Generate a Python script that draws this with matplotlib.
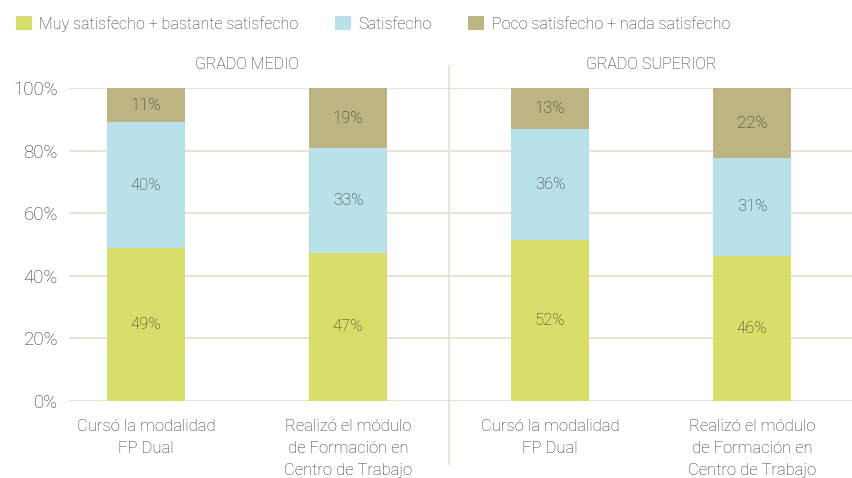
import matplotlib
matplotlib.use("Agg")
import matplotlib.pyplot as plt
from matplotlib.patches import Patch
import numpy as np

plt.rcParams['font.family'] = ['Roboto', 'DejaVu Sans']
plt.rcParams['font.weight'] = 'light'

categories = ["Cursó la modalidad\nFP Dual",
              "Realizó el módulo\nde Formación en\nCentro de Trabajo",
              "Cursó la modalidad\nFP Dual",
              "Realizó el módulo\nde Formación en\nCentro de Trabajo"]
groups = ["GRADO MEDIO", "GRADO SUPERIOR"]
series_names = ["Muy satisfecho + bastante satisfecho", "Satisfecho",
                "Poco satisfecho + nada satisfecho"]
muy = [49.0, 47.4, 51.5, 46.4]
satis = [40.0, 33.3, 35.5, 31.2]
poco = [11.0, 19.3, 13.0, 22.4]
colors = ["#d7df6a", "#b8e1ea", "#bcb483"]
text_color = "#333333"
grid_color = "#e7e3cf"

fig = plt.figure(figsize=(8.52, 4.78), dpi=100)
ax = fig.add_axes([69/852, 1-401/478, 1-69/852, 313/478])

x = np.arange(len(categories))
w = 0.386
bottom = np.zeros(len(categories))
for vals, col in zip([muy, satis, poco], colors):
    vals = np.array(vals)
    ax.bar(x, vals, w, bottom=bottom, color=col, zorder=3)
    for xi, b, v in zip(x, bottom, vals):
        ax.text(xi, b + v/2, f"{v:.0f}%", ha='center', va='center',
                fontsize=12, color=text_color, zorder=4)
    bottom += vals

ax.set_xlim(-0.381, 3.495)
ax.set_ylim(0, 100)
ax.set_yticks([0, 20, 40, 60, 80, 100])
ax.set_yticklabels([f"{t}%" for t in [0, 20, 40, 60, 80, 100]])
ax.set_xticks(x)
ax.set_xticklabels(categories, linespacing=1.6)
ax.tick_params(axis='both', length=0, colors=text_color, labelsize=13.5)
ax.tick_params(axis='x', pad=13, labelsize=12)
ax.tick_params(axis='y', pad=8)
for s in ax.spines.values():
    s.set_visible(False)
ax.yaxis.grid(True, color=grid_color, linewidth=1.3, zorder=0)
ax.set_axisbelow(True)

# divider between groups
ax.plot([1.5, 1.5], [-0.2, 1.07], transform=ax.get_xaxis_transform(),
        color=grid_color, linewidth=1.3, clip_on=False, zorder=1)

for gx, g in zip([0.5, 2.5], groups):
    ax.text(gx, 1.076, g, transform=ax.get_xaxis_transform(), ha='center',
            va='center', fontsize=11.5, color=text_color)

handles = [Patch(facecolor=c, edgecolor='none') for c in colors]
fig.legend(handles, series_names, loc='upper left', bbox_to_anchor=(0.0, 1.0),
           ncol=3, frameon=False, fontsize=11.5, labelcolor=text_color,
           handlelength=1.0, handleheight=1.0, handletextpad=0.45,
           columnspacing=2.3, borderaxespad=0.6)

fig.savefig("out.png", dpi=100)
